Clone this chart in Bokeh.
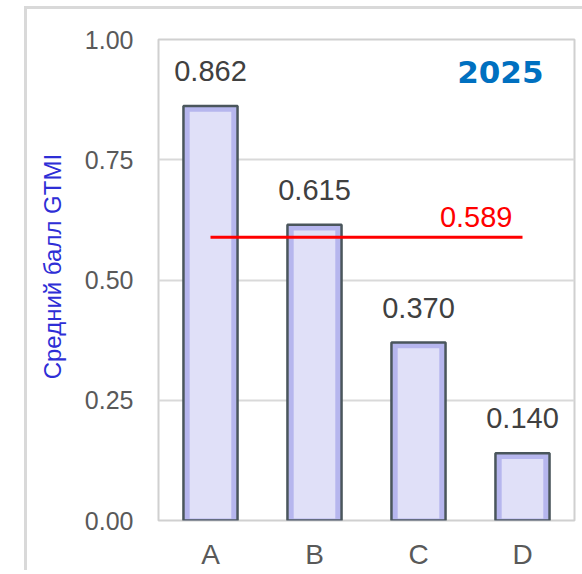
from bokeh.plotting import figure
from bokeh.models import ColumnDataSource, LabelSet, Label, FixedTicker, NumeralTickFormatter
from bokeh.embed import file_html
from bokeh.resources import INLINE
from bokeh.core.properties import value

categories = ["A", "B", "C", "D"]
scores = [0.862, 0.615, 0.370, 0.140]
score_labels = ["0.862", "0.615", "0.370", "0.140"]
average = 0.589
average_label = "0.589"
year = "2025"
y_ticks = [0.0, 0.25, 0.5, 0.75, 1.0]
y_title = "Средний балл GTMI"

FONT = "Liberation Sans"

p = figure(x_range=categories, y_range=(0, 1), width=558, height=564,
           output_backend="svg", toolbar_location=None,
           min_border_left=131, min_border_right=11, min_border_top=30, min_border_bottom=53)
p.margin = (6, 0, 0, 24)
p.styles = {"border-left": "3px solid #d9d9d9", "border-top": "3px solid #d9d9d9"}
p.x_range.range_padding = 0
p.background_fill_color = "white"
p.border_fill_color = "white"
p.outline_line_color = "#d0d0d0"
p.outline_line_width = 2

p.xgrid.grid_line_color = None
p.ygrid.grid_line_color = "#d9d9d9"
p.ygrid.grid_line_width = 2
p.yaxis.ticker = FixedTicker(ticks=y_ticks)
p.yaxis.formatter = NumeralTickFormatter(format="0.00")

for ax in (p.xaxis[0], p.yaxis[0]):
    ax.axis_line_color = None
    ax.major_tick_line_color = None
    ax.minor_tick_line_color = None
    ax.major_tick_out = 0
    ax.major_tick_in = 0
    ax.minor_tick_out = 0
    ax.major_label_text_font = FONT
    ax.major_label_text_color = "#595959"

p.yaxis.major_label_text_font_size = "25px"
p.xaxis.major_label_text_font_size = "28px"
p.yaxis.major_label_standoff = 25
p.xaxis.major_label_standoff = 18

# leading no-break spaces nudge the centred title upward, as in the reference
p.yaxis.axis_label = "\u00a0" * 4 + y_title
p.yaxis.axis_label_text_font = FONT
p.yaxis.axis_label_text_font_size = "24px"
p.yaxis.axis_label_text_font_style = "normal"
p.yaxis.axis_label_text_color = "#2e2ed6"
p.yaxis.axis_label_standoff = 16

src = ColumnDataSource(dict(cat=categories, val=scores, lab=score_labels,
                            inner_top=[v - 0.012 for v in scores]))

# bar body with bevel-like edges
p.vbar(x="cat", top="val", bottom=0, width=0.52, source=src,
       fill_color="#b6b6ee", line_color="#4a565c", line_width=2.5)
p.vbar(x="cat", top="inner_top", bottom=0.004, width=0.40, source=src,
       fill_color="#e0e0f8", line_color=None)

labels = LabelSet(x="cat", y="val", text="lab", source=src, text_align="center",
                  text_baseline="alphabetic", y_offset=25,
                  text_font=value(FONT), text_font_size="29px", text_color="#404040")
p.add_layout(labels)

# average line from first to last category centre
p.line(x=[categories[0], categories[-1]], y=[average, average], line_color="#ff0000", line_width=3)

last_center = len(categories) - 0.5  # synthetic coordinate of last factor centre
p.add_layout(Label(x=last_center, y=average, text=average_label, text_align="right",
                   text_baseline="alphabetic", x_offset=-10, y_offset=20,
                   text_font=FONT, text_font_size="29px", text_color="#ff0000"))

p.add_layout(Label(x=last_center, y=1.0, text=year, text_align="right",
                   text_baseline="alphabetic", x_offset=21, y_offset=-32,
                   text_font="DejaVu Sans", text_font_size="31px", text_font_style="bold",
                   text_color="#0070c0"))

open("out.html", "w").write(file_html(p, INLINE))
